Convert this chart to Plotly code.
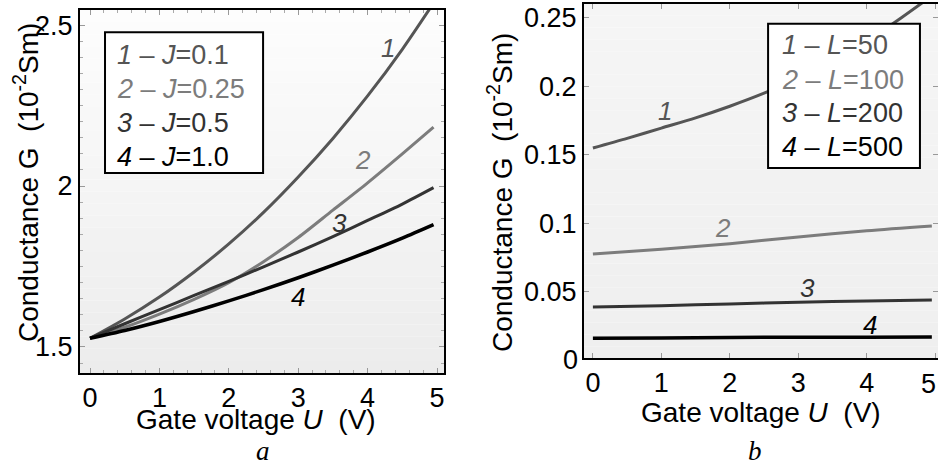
import plotly.graph_objects as go

# ---------------- data ----------------
U_a = [0, 0.5, 1.0, 1.5, 2.0, 2.5, 3.0, 3.5, 4.0, 4.5, 5.0]
G_J01 = [1.527, 1.587, 1.655, 1.733, 1.82, 1.918, 2.028, 2.148, 2.28, 2.425, 2.585]
U_a2 = [0, 0.5, 1.0, 1.5, 2.0, 2.5, 3.0, 3.5, 4.0, 4.5, 4.95]
G_J025 = [1.527, 1.561, 1.602, 1.648, 1.70, 1.765, 1.84, 1.925, 2.01, 2.10, 2.183]
G_J05 = [1.527, 1.572, 1.616, 1.66, 1.704, 1.749, 1.795, 1.843, 1.893, 1.944, 1.995]
G_J10 = [1.527, 1.551, 1.579, 1.61, 1.643, 1.678, 1.715, 1.754, 1.795, 1.838, 1.880]

U_b = [0, 0.5, 1.0, 1.5, 2.0, 2.5, 3.0, 3.5, 4.0, 4.5, 5.0]
G_L50 = [0.155, 0.162, 0.1695, 0.177, 0.1855, 0.195, 0.206, 0.218, 0.233, 0.250, 0.268]
U_b2 = [0, 1, 2, 3, 4, 4.95]
G_L100 = [0.0775, 0.081, 0.085, 0.090, 0.0945, 0.098]
G_L200 = [0.0387, 0.0397, 0.041, 0.0422, 0.0432, 0.0439]
G_L500 = [0.0160, 0.0161, 0.0165, 0.0166, 0.0167, 0.0168]

x_ticks = [0, 1, 2, 3, 4, 5]
y_ticks_a = [1.5, 2.0, 2.5]
y_ticklabels_a = ["1.5", "2", "2.5"]
y_ticks_b = [0, 0.05, 0.1, 0.15, 0.2, 0.25]
y_ticklabels_b = ["0", "0.05", "0.1", "0.15", "0.2", "0.25"]

legend_a = ["<i>1</i> – <i>J</i>=0.1", "<i>2</i> – <i>J</i>=0.25",
            "<i>3</i> – <i>J</i>=0.5", "<i>4</i> – <i>J</i>=1.0"]
legend_b = ["<i>1</i> – <i>L</i>=50", "<i>2</i> – <i>L</i>=100",
            "<i>3</i> – <i>L</i>=200", "<i>4</i> – <i>L</i>=500"]
curve_colors = ["#555555", "#7c7c7c", "#333333", "#000000"]

FONT = "Liberation Sans, Arial, sans-serif"
SERIF = "Liberation Serif, Times New Roman, serif"

fig = go.Figure()

series_a = [(U_a, G_J01), (U_a2, G_J025), (U_a2, G_J05), (U_a2, G_J10)]
series_b = [(U_b, G_L50), (U_b2, G_L100), (U_b2, G_L200), (U_b2, G_L500)]
widths = [3, 3, 3, 3.5]
for (xs, ys), c, w in zip(series_a, curve_colors, widths):
    fig.add_trace(go.Scatter(x=xs, y=ys, mode="lines",
                             line=dict(color=c, width=w, shape="spline", smoothing=0.8),
                             xaxis="x", yaxis="y", showlegend=False, hoverinfo="skip"))
for (xs, ys), c, w in zip(series_b, curve_colors, widths):
    fig.add_trace(go.Scatter(x=xs, y=ys, mode="lines",
                             line=dict(color=c, width=w, shape="spline", smoothing=0.8),
                             xaxis="x2", yaxis="y2", showlegend=False, hoverinfo="skip"))

axis_common = dict(showline=True, linecolor="black", linewidth=2, mirror="allticks",
                   ticks="inside", ticklen=5, tickcolor="#999999", tickwidth=1,
                   showgrid=False, zeroline=False, automargin=False,
                   tickfont=dict(family=FONT, size=27, color="black"))

fig.update_layout(
    width=938, height=466,
    margin=dict(l=0, r=0, t=0, b=0, autoexpand=False),
    paper_bgcolor="white", plot_bgcolor="rgba(0,0,0,0)",
    xaxis=dict(domain=[0.0853, 0.4733], range=[-0.144, 5.10], tickvals=x_ticks,
               anchor="y", ticklabelstandoff=0,
               minor=dict(ticks="inside", ticklen=3, dtick=0.2, tickcolor="#aaaaaa"),
               **axis_common),
    yaxis=dict(domain=[0.1996, 0.9785], range=[1.419, 2.547], tickvals=y_ticks_a,
               ticktext=y_ticklabels_a, anchor="x", ticklabelstandoff=0,
               minor=dict(ticks="inside", ticklen=3, dtick=0.05, tickcolor="#aaaaaa"),
               **axis_common),
    xaxis2=dict(domain=[0.6226, 1.0], range=[-0.13, 5.04], tickvals=x_ticks,
                anchor="y2", ticklabelstandoff=0, **axis_common),
    yaxis2=dict(domain=[0.2318, 0.9914], range=[0.0015, 0.2602], tickvals=y_ticks_b,
                ticktext=y_ticklabels_b, anchor="x2", ticklabelstandoff=0, **axis_common),
)

# background gradient bands (style only)
shapes = []
nb = 30
for ax, top, bot in [("", (253, 253, 253), (236, 236, 236)), ("2", (245, 245, 245), (239, 239, 239))]:
    for i in range(nb):
        t = i / (nb - 1)
        col = tuple(round(top[k] + (bot[k] - top[k]) * t) for k in range(3))
        shapes.append(dict(type="rect", xref=f"x{ax} domain", yref=f"y{ax} domain",
                           x0=0, x1=1, y0=1 - (i + 1) / nb, y1=1 - i / nb, layer="below",
                           line=dict(width=0), fillcolor="rgb(%d,%d,%d)" % col))
# legend boxes
shapes.append(dict(type="rect", xref="x domain", yref="y domain", x0=0.0687, x1=0.503,
                   y0=0.551, y1=0.939, fillcolor="white", line=dict(color="black", width=2), layer="above"))
shapes.append(dict(type="rect", xref="x2 domain", yref="y2 domain", x0=0.520, x1=0.949,
                   y0=0.537, y1=0.944, fillcolor="white", line=dict(color="black", width=2), layer="above"))
fig.update_layout(shapes=shapes)

ann = []
rows_a = [0.876, 0.782, 0.689, 0.595]
rows_b = [0.884, 0.785, 0.692, 0.596]
for txt, c, yy in zip(legend_a, curve_colors, rows_a):
    ann.append(dict(text=txt, xref="x domain", yref="y domain", x=0.096, y=yy, xanchor="left",
                    yanchor="middle", showarrow=False, font=dict(family=FONT, size=27, color=c)))
for txt, c, yy in zip(legend_b, curve_colors, rows_b):
    ann.append(dict(text=txt, xref="x2 domain", yref="y2 domain", x=0.554, y=yy, xanchor="left",
                    yanchor="middle", showarrow=False, font=dict(family=FONT, size=27, color=c)))

# curve labels
labels_a = [("1", 4.29, 2.43), ("2", 3.93, 2.08), ("3", 3.60, 1.885), ("4", 3.00, 1.655)]
labels_b = [("1", 1.05, 0.182), ("2", 1.90, 0.0965), ("3", 3.13, 0.053), ("4", 4.05, 0.0256)]
for (t, x, y), c in zip(labels_a, curve_colors):
    ann.append(dict(text=f"<i>{t}</i>", x=x, y=y, xref="x", yref="y", showarrow=False,
                    xanchor="center", yanchor="middle",
                    font=dict(family=FONT, size=26, color=c)))
for (t, x, y), c in zip(labels_b, curve_colors):
    ann.append(dict(text=f"<i>{t}</i>", x=x, y=y, xref="x2", yref="y2", showarrow=False,
                    xanchor="center", yanchor="middle",
                    font=dict(family=FONT, size=26, color=c)))

# axis titles and panel labels
ytitle = "Conductance G \u00a0(10<sup>-2</sup>Sm)"
xtitle = "Gate voltage <i>U</i> \u00a0(V)"
def pann(text, x, y, angle=0, family=FONT, size=28, xanchor="center"):
    return dict(text=text, xref="paper", yref="paper", x=x, y=y, textangle=angle,
                xanchor=xanchor, yanchor="middle", showarrow=False,
                font=dict(family=family, size=size, color="black"))
ann.append(pann(ytitle, 26 / 938, 1 - 183 / 466, -90))
ann.append(pann(ytitle, 500 / 938, 1 - 193 / 466, -90))
ann.append(pann(xtitle, 256 / 938, 1 - 419 / 466))
ann.append(pann(xtitle, 761 / 938, 1 - 412 / 466))
ann.append(pann("<i>a</i>", 263 / 938, 1 - 451 / 466, family=SERIF, size=27))
ann.append(pann("<i>b</i>", 755 / 938, 1 - 451 / 466, family=SERIF, size=27))
# tick labels sitting on the frame edges in the original
ann.append(pann(y_ticklabels_b[0], 580 / 938, 1 - 360 / 466, size=27, xanchor="right"))
ann.append(pann(str(x_ticks[-1]), 1.0, 1 - 384 / 466, size=27, xanchor="right"))
fig.update_layout(annotations=ann)

fig.write_html("out.html",
               post_script="document.body.style.margin='0';"
                           "document.querySelectorAll('.modebar-container').forEach(function(e){e.style.display='none';});")
